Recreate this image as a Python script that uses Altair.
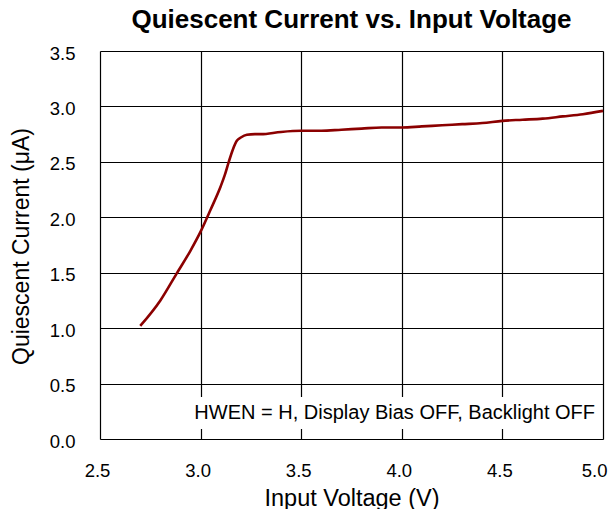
import altair as alt
import pandas as pd

vin = [2.70, 2.80, 2.88, 2.95, 3.00, 3.05, 3.10, 3.12, 3.14, 3.16, 3.18, 3.20, 3.23, 3.27, 3.30,
       3.40, 3.50, 3.60, 3.70, 3.80, 3.90, 4.00, 4.10, 4.20, 4.30, 4.40, 4.50, 4.60, 4.70, 4.80, 4.90, 5.00]
iq = [1.02, 1.25, 1.49, 1.70, 1.87, 2.07, 2.28, 2.38, 2.50, 2.61, 2.69, 2.72, 2.745, 2.75, 2.75,
      2.77, 2.78, 2.78, 2.79, 2.80, 2.81, 2.81, 2.82, 2.83, 2.84, 2.85, 2.87, 2.88, 2.89, 2.91, 2.93, 2.96]

x_ticks = [2.5, 3.0, 3.5, 4.0, 4.5, 5.0]
y_ticks = [0.0, 0.5, 1.0, 1.5, 2.0, 2.5, 3.0, 3.5]
note = "HWEN = H, Display Bias OFF, Backlight OFF"
chart_title = "Quiescent Current vs. Input Voltage"

df = pd.DataFrame({"vin": vin, "iq": iq})
FONT = "Liberation Sans"

x_enc = alt.X("vin:Q", scale=alt.Scale(domain=[2.5, 5.0], nice=False),
              axis=alt.Axis(values=x_ticks, format=".1f", title="Input Voltage (V)",
                            labelFontSize=18.5, labelBaseline="alphabetic", labelPadding=37,
                            labelAlign=alt.ExprRef(expr="datum.value >= 5 ? 'right' : 'center'"),
                            labelOffset=alt.ExprRef(expr="datum.value >= 5 ? 4 : -3"),
                            labelFlush=False, labelOverlap=False,
                            titleFontSize=23.5, titleFontWeight="normal",
                            titleBaseline="alphabetic", titleY=66,
                            grid=True, gridColor="#000000", gridWidth=1.2,
                            ticks=False, tickSize=0, domain=False,
                            labelColor="#000000", titleColor="#000000",
                            labelFont=FONT, titleFont=FONT))
y_enc = alt.Y("iq:Q", scale=alt.Scale(domain=[0, 3.5], nice=False),
              axis=alt.Axis(values=y_ticks, format=".1f", title="Quiescent Current (μA)",
                            labelFontSize=18.5, labelPadding=25, labelOffset=2, labelFlush=False,
                            labelOverlap=False,
                            titleFontSize=23, titleFontWeight="normal",
                            titleAngle=-90, titleAlign="center", titleBaseline="middle",
                            titleX=-79, titleY=195,
                            grid=True, gridColor="#000000", gridWidth=1.2,
                            ticks=False, tickSize=0, domain=False,
                            labelColor="#000000", titleColor="#000000",
                            labelFont=FONT, titleFont=FONT))

line = alt.Chart(df).mark_line(color="#8B0000", strokeWidth=2.6, interpolate="monotone").encode(
    x=x_enc, y=y_enc
)

box = alt.Chart(pd.DataFrame({"a": [0]})).mark_rect(color="white").encode(
    x=alt.value(90), x2=alt.value(500), y=alt.value(346), y2=alt.value(378)
)

txt = alt.Chart(pd.DataFrame({"t": [note]})).mark_text(
    align="right", baseline="alphabetic", fontSize=20, font=FONT, color="#000000"
).encode(x=alt.value(495), y=alt.value(368), text="t:N")

ttl = alt.Chart(pd.DataFrame({"t": [chart_title]})).mark_text(
    align="center", baseline="alphabetic", fontSize=26, font=FONT, fontWeight="bold",
    color="#000000"
).encode(x=alt.value(251.5), y=alt.value(-23), text="t:N")

chart = alt.layer(box, line, txt, ttl).properties(
    width=503, height=388,
    autosize=alt.AutoSizeParams(type="none"),
    padding={"left": 92, "top": 43, "right": 5, "bottom": 70},
).configure_view(stroke="#555555", strokeWidth=2).configure(background="white")

chart.save("out.html", embed_options={"renderer": "svg", "actions": False})
